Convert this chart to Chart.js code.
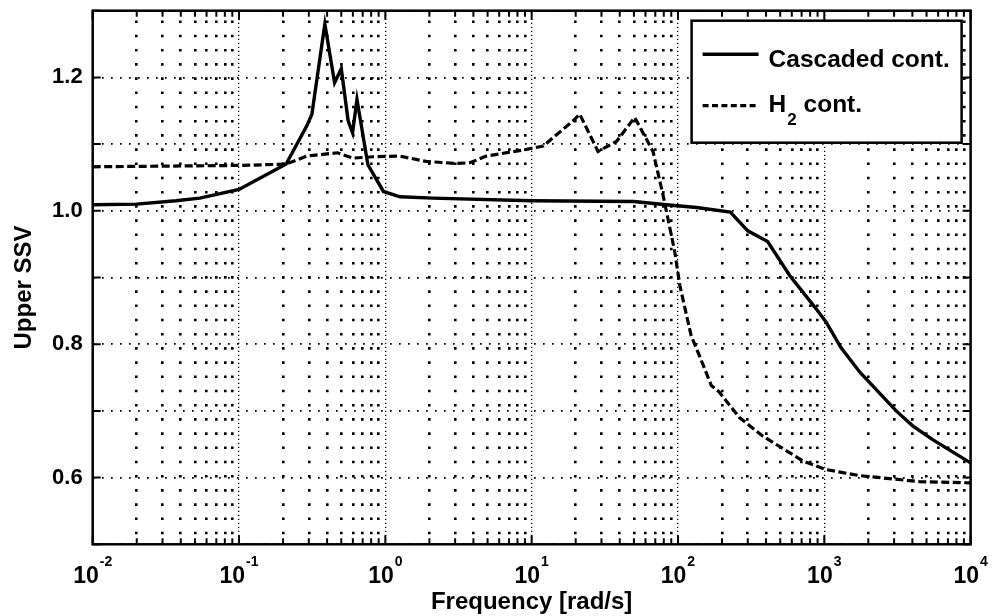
<!DOCTYPE html>
<html>
<head>
<meta charset="utf-8">
<script src="https://cdn.jsdelivr.net/npm/chart.js@4"></script>
<style>
html, body { margin: 0; padding: 0; background: #fff; }
#wrap { width: 992px; height: 616px; }
</style>
</head>
<body>
<div id="wrap"><canvas id="ssv"></canvas></div>
<script>
// values
const freqCascaded = [0.01, 0.02, 0.037, 0.054, 0.1, 0.21, 0.29, 0.315, 0.386, 0.45, 0.5, 0.557, 0.597, 0.64, 0.76, 0.97, 1.26, 2.1, 10, 50, 83, 134, 228, 300, 410, 580, 880, 1030, 1300, 1750, 3100, 4000, 5500, 10000];
const ssvCascaded  = [1.009, 1.010, 1.015, 1.019, 1.032, 1.070, 1.127, 1.145, 1.280, 1.192, 1.213, 1.135, 1.117, 1.167, 1.069, 1.029, 1.021, 1.019, 1.015, 1.014, 1.009, 1.005, 0.998, 0.970, 0.954, 0.903, 0.853, 0.833, 0.795, 0.758, 0.700, 0.678, 0.657, 0.622];

const freqH2 = [0.01, 0.1, 0.21, 0.29, 0.47, 0.6, 0.83, 1.26, 1.9, 3.06, 3.78, 4.9, 9.2, 12, 19.2, 21.3, 28.4, 38, 50.6, 67.5, 79, 95, 103, 123, 140, 169, 192, 263, 381, 715, 1030, 1740, 4470, 10000];
const ssvH2  = [1.066, 1.068, 1.070, 1.082, 1.087, 1.079, 1.081, 1.082, 1.074, 1.071, 1.072, 1.082, 1.092, 1.097, 1.135, 1.145, 1.089, 1.104, 1.140, 1.089, 1.024, 0.939, 0.888, 0.813, 0.783, 0.738, 0.728, 0.690, 0.662, 0.625, 0.612, 0.603, 0.594, 0.592];

const seriesNames = ['Cascaded cont.', 'H_2 cont.'];

const xDecades = [0.01, 0.1, 1, 10, 100, 1000, 10000];
const xMinorSteps = [2, 3, 4, 5, 6, 7, 8, 9];
const yTickValues = [0.5, 0.6, 0.7, 0.8, 0.9, 1.0, 1.1, 1.2, 1.3];
const yLabelValues = [0.6, 0.8, 1.0, 1.2];

const xTickValues = [];
xDecades.forEach((d, i) => {
    xTickValues.push(d);
    if (i < xDecades.length - 1) xMinorSteps.forEach(m => xTickValues.push(d * m));
});

const FONT = '"Liberation Sans", Arial, sans-serif';
Chart.defaults.font.family = FONT;
Chart.defaults.color = '#000';

const isDecade = v => Math.abs(Math.log10(v) - Math.round(Math.log10(v))) < 1e-9;
const pts = (xs, ys) => xs.map((x, i) => ({x: x, y: ys[i]}));

// draws text like MATLAB tex: 'H_2 cont.'
function texText(ctx, str, x, y, size) {
    const i = str.indexOf('_');
    ctx.font = 'bold ' + size + 'px ' + FONT;
    if (i < 0) { ctx.fillText(str, x, y); return; }
    const head = str.slice(0, i), sub = str.charAt(i + 1), rest = str.slice(i + 2);
    ctx.fillText(head, x, y);
    x += ctx.measureText(head).width + 1;
    ctx.font = 'bold ' + Math.round(size * 0.68) + 'px ' + FONT;
    ctx.fillText(sub, x, y + 13);
    x += ctx.measureText(sub).width;
    ctx.font = 'bold ' + size + 'px ' + FONT;
    ctx.fillText(rest, x, y);
}

const matlabAxes = {
    id: 'matlabAxes',
    afterDatasetsDraw(chart) {
        const {ctx, chartArea: a, scales: {x, y}} = chart;
        ctx.save();

        // legend box
        const bx = a.right - 279, by = a.top + 10, bw = 270, bh = 122;
        ctx.fillStyle = '#fff';
        ctx.fillRect(bx, by, bw, bh);
        ctx.strokeStyle = '#000';
        ctx.lineWidth = 2.5;
        ctx.strokeRect(bx, by, bw, bh);
        const rows = [{line: 33.6, base: 46}, {line: 85, base: 91}];
        chart.data.datasets.forEach((ds, i) => {
            const r = rows[i];
            ctx.setLineDash(i === 0 ? [] : [6, 3.4]);
            ctx.lineWidth = ds.borderWidth;
            ctx.beginPath();
            ctx.moveTo(bx + 11, by + r.line);
            ctx.lineTo(bx + 67, by + r.line);
            ctx.stroke();
            ctx.setLineDash([]);
            ctx.fillStyle = '#000';
            ctx.textBaseline = 'alphabetic';
            ctx.textAlign = 'left';
            texText(ctx, ds.label, bx + 77, by + r.base, 24.5);
        });

        // axes frame
        ctx.setLineDash([]);
        ctx.strokeStyle = '#000';
        ctx.lineWidth = 2.5;
        ctx.strokeRect(a.left, a.top, a.right - a.left, a.bottom - a.top);

        // inward tick marks on all four sides
        ctx.lineWidth = 2;
        ctx.beginPath();
        x.ticks.forEach(t => {
            const px = x.getPixelForValue(t.value);
            const len = isDecade(t.value) ? 9 : 6;
            ctx.moveTo(px, a.bottom); ctx.lineTo(px, a.bottom - len);
            ctx.moveTo(px, a.top); ctx.lineTo(px, a.top + len);
        });
        y.ticks.forEach(t => {
            const py = y.getPixelForValue(t.value);
            ctx.moveTo(a.left, py); ctx.lineTo(a.left + 8, py);
            ctx.moveTo(a.right, py); ctx.lineTo(a.right - 8, py);
        });
        ctx.stroke();

        // x tick labels 10^n
        ctx.fillStyle = '#000';
        ctx.textAlign = 'left';
        ctx.textBaseline = 'alphabetic';
        const big = 'bold 23px ' + FONT, small = 'bold 14px ' + FONT;
        xDecades.forEach(v => {
            const px = x.getPixelForValue(v);
            const e = String(Math.round(Math.log10(v)));
            ctx.font = big;
            const wb = ctx.measureText('10').width;
            ctx.font = small;
            const we = ctx.measureText(e).width;
            const x0 = px - (wb + 1 + we) / 2;
            ctx.font = big;
            ctx.fillText('10', x0, a.bottom + 38.7);
            ctx.font = small;
            ctx.fillText(e, x0 + wb + 1, a.bottom + 21.7);
        });
        ctx.restore();
    }
};

new Chart(document.getElementById('ssv'), {
    type: 'line',
    data: {
        datasets: [{
            label: seriesNames[0],
            data: pts(freqCascaded, ssvCascaded),
            borderColor: '#000',
            borderWidth: 3.4,
            pointRadius: 0,
            tension: 0
        }, {
            label: seriesNames[1],
            data: pts(freqH2, ssvH2),
            borderColor: '#000',
            borderWidth: 3.2,
            borderDash: [8, 3.5],
            pointRadius: 0,
            tension: 0
        }]
    },
    options: {
        responsive: true,
        maintainAspectRatio: false,
        animation: false,
        layout: { padding: { top: 10.7, right: 21.4, left: 0, bottom: 0 } },
        plugins: { legend: { display: false }, tooltip: { enabled: false } },
        scales: {
            x: {
                type: 'logarithmic',
                min: 0.01,
                max: 10000,
                afterBuildTicks: s => { s.ticks = xTickValues.map(v => ({value: v})); },
                afterFit: s => { s.height = 71.7; s.paddingLeft = 0; s.paddingRight = 0; },
                ticks: { display: false },
                grid: {
                    drawTicks: false,
                    color: '#000',
                    lineWidth: c => (c.tick && isDecade(c.tick.value)) ? 1.3 : 2.6
                },
                border: {
                    display: false,
                    dash: c => (c.tick && isDecade(c.tick.value)) ? [1.3, 2.7] : [2.6, 11.6],
                    dashOffset: c => (c.tick && isDecade(c.tick.value)) ? 0 : 4.4
                },
                title: {
                    display: true,
                    text: 'Frequency [rad/s]',
                    color: '#000',
                    font: { size: 24, weight: 'bold' },
                    padding: { top: 0, bottom: -1 }
                }
            },
            y: {
                min: 0.5,
                max: 1.3,
                afterBuildTicks: s => { s.ticks = yTickValues.map(v => ({value: v})); },
                afterFit: s => { s.width = 92.7; s.paddingTop = 0; s.paddingBottom = 0; },
                ticks: {
                    autoSkip: false,
                    padding: 10,
                    color: '#000',
                    font: { size: 22, weight: 'bold' },
                    callback: v => yLabelValues.some(l => Math.abs(l - v) < 1e-9) ? v.toFixed(1) : ''
                },
                grid: { drawTicks: false, color: '#000', lineWidth: 1.7 },
                border: { display: false, dash: [1.7, 7.3] },
                title: {
                    display: true,
                    text: 'Upper SSV   ',
                    color: '#000',
                    font: { size: 24, weight: 'bold' },
                    padding: { top: 10, bottom: 0 }
                }
            }
        }
    },
    plugins: [matlabAxes]
});
</script>
</body>
</html>
